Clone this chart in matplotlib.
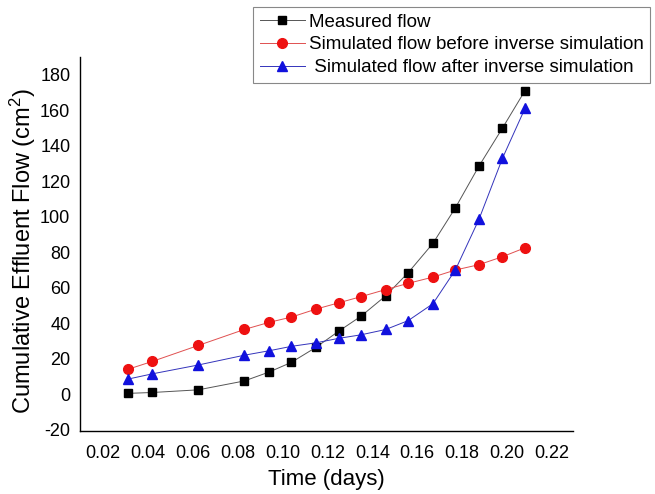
import matplotlib
matplotlib.use('Agg')
import matplotlib.pyplot as plt

plt.rcParams['font.family'] = ['Liberation Sans', 'DejaVu Sans']
plt.rcParams['mathtext.fontset'] = 'custom'
plt.rcParams['mathtext.rm'] = 'Liberation Sans'
plt.rcParams['mathtext.it'] = 'Liberation Sans'
plt.rcParams['axes.unicode_minus'] = False

# time in days (15 minute sampling)
time_days = [0.031, 0.042, 0.0625, 0.083, 0.094, 0.104, 0.115, 0.125,
             0.135, 0.146, 0.156, 0.167, 0.177, 0.1875, 0.198, 0.208]

measured = [0.5, 1, 2.5, 7.5, 12.5, 18, 26.5, 35.5,
            44, 55.5, 68.5, 85, 105, 128.5, 150, 171]
before_inverse = [14, 18.5, 27.5, 36.5, 40.5, 43.5, 48, 51.5,
                  55, 59, 62.5, 66, 70, 73, 77.5, 82.5]
after_inverse = [8.5, 11.5, 16.5, 22, 24.5, 27, 29, 31.5,
                 33.5, 36.5, 41.5, 51, 70, 98.5, 133, 161]

labels = ['Measured flow',
          'Simulated flow before inverse simulation',
          ' Simulated flow after inverse simulation']

xticks = [0.02, 0.04, 0.06, 0.08, 0.10, 0.12, 0.14, 0.16, 0.18, 0.20, 0.22]
yticks = [-20, 0, 20, 40, 60, 80, 100, 120, 140, 160, 180]

fig = plt.figure(figsize=(6.55, 4.94), dpi=100)
ax = fig.add_axes([0.1221, 0.1275, 0.7527, 0.7571])

ax.plot(time_days, measured, color='#555555', linewidth=0.7,
        marker='s', markersize=6, markerfacecolor='black',
        markeredgecolor='black', label=labels[0])
ax.plot(time_days, before_inverse, color='#e05050', linewidth=0.7,
        marker='o', markersize=7, markerfacecolor='#ee1111',
        markeredgecolor='#ee1111', label=labels[1])
ax.plot(time_days, after_inverse, color='#3333bb', linewidth=0.7,
        marker='^', markersize=7.5, markerfacecolor='#1111dd',
        markeredgecolor='#1111dd', label=labels[2])

ax.set_xlim(0.0098, 0.2294)
ax.set_ylim(-20.7, 190)
ax.set_xticks(xticks)
ax.set_xticklabels(['%.2f' % t for t in xticks])
ax.set_yticks(yticks)
ax.tick_params(axis='both', length=0, labelsize=13)
ax.tick_params(axis='x', pad=10)
ax.tick_params(axis='y', pad=7)

ax.spines['top'].set_visible(False)
ax.spines['right'].set_visible(False)
ax.spines['left'].set_linewidth(1.0)
ax.spines['bottom'].set_linewidth(1.0)

ax.set_xlabel('Time (days)', fontsize=16, labelpad=5)
ax.set_ylabel('Cumulative Effluent Flow (cm$^2$)', fontsize=17, labelpad=0)
ax.yaxis.set_label_coords(-0.085, 0.48)

leg = ax.legend(loc='upper right', bbox_to_anchor=(650 / 655, 1 - 7 / 494),
                bbox_transform=fig.transFigure, fontsize=13.5, frameon=True,
                fancybox=False, framealpha=1, edgecolor='#888888',
                handlelength=2.4, handletextpad=0.2, labelspacing=0.3,
                borderpad=0.35, borderaxespad=0)
leg.get_frame().set_linewidth(0.8)

plt.savefig('out.png', dpi=100)
plt.close(fig)
